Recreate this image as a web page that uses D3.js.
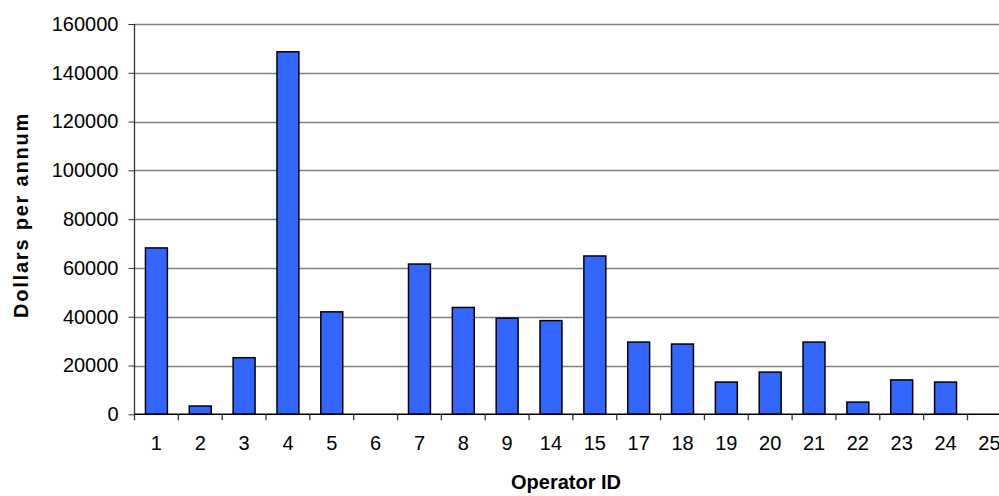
<!DOCTYPE html>
<html><head><meta charset="utf-8">
<script src="https://cdn.jsdelivr.net/npm/d3@7"></script>
<style>body{margin:0;background:#fff}svg{display:block}text{font-family:"Liberation Sans",Arial,sans-serif}</style>
</head><body><svg id="c" width="999" height="496"></svg>
<script>
const categories = ["1","2","3","4","5","6","7","8","9","14","15","17","18","19","20","21","22","23","24","25"];
const values = [68200,3400,23200,148600,42000,0,61600,43800,39400,38400,64900,29600,28800,13200,17300,29600,5000,14100,13200,0];
const yTicks = [0,20000,40000,60000,80000,100000,120000,140000,160000];
const xTitle = "Operator ID";
const yTitle = "Dollars per annum";

const svg = d3.select("#c");
const L = 134.5, R = 1011.3, T = 24, B = 414.3;
const x = d3.scaleBand().domain(categories).range([L, R]).paddingInner(0.5).paddingOuter(0.25);
const y = d3.scaleLinear().domain([0,160000]).range([B, T]);
const FONT = '"Liberation Sans",Arial,sans-serif';

// gridlines
svg.append("g").selectAll("line").data(yTicks.filter(d=>d>0)).join("line")
  .attr("x1", L).attr("x2", 999).attr("y1", d=>Math.round(y(d))+0.5).attr("y2", d=>Math.round(y(d))+0.5)
  .attr("stroke", "#7f7f7f").attr("stroke-width", 1.3);

// bars
const barData = values.map((v,i)=>({c:categories[i],v})).filter(d=>d.v>0);
svg.append("g").selectAll("rect").data(barData).join("rect")
  .attr("x", d=>x(d.c)).attr("width", x.bandwidth())
  .attr("y", d=>y(d.v)).attr("height", d=>y(0)-y(d.v))
  .attr("fill", "#3366ff").attr("stroke", "#000").attr("stroke-width", 1.5);

// y axis
const ya = svg.append("g").attr("transform", `translate(${L},0)`)
  .call(d3.axisLeft(y).tickValues(yTicks).tickFormat(d3.format("d")).tickSize(6).tickPadding(10));
ya.select(".domain").attr("stroke", "#333").attr("stroke-width", 1.3).attr("d", `M0,${T}V${B}`);
ya.selectAll(".tick line").attr("stroke", "#333");
ya.selectAll("text").attr("font-size", 20).attr("fill", "#000").attr("font-family", FONT);

// x axis
const xb = d3.scaleBand().domain(categories).range([L, R]);
const xa = svg.append("g").attr("transform", `translate(0,${B})`)
  .call(d3.axisBottom(x).tickSize(0).tickPadding(22));
xa.select(".domain").remove();
xa.selectAll("text").attr("font-size", 20).attr("fill", "#000").attr("font-family", FONT);
svg.append("line").attr("x1", L).attr("x2", 999).attr("y1", B).attr("y2", B).attr("stroke", "#000").attr("stroke-width", 1.5);
svg.append("g").selectAll("line").data(categories).join("line")
  .attr("x1", d=>xb(d)).attr("x2", d=>xb(d)).attr("y1", B).attr("y2", B+6)
  .attr("stroke", "#333").attr("stroke-width", 1.3);

// titles
svg.append("text").attr("x", 566).attr("y", 489).attr("text-anchor", "middle")
  .attr("font-size", 20).attr("font-weight", "bold").text(xTitle);
svg.append("text").attr("transform", `translate(28,215) rotate(-90)`).attr("text-anchor", "middle")
  .attr("font-size", 20).attr("font-weight", "bold").attr("letter-spacing", 1.8).text(yTitle);
</script></body></html>
